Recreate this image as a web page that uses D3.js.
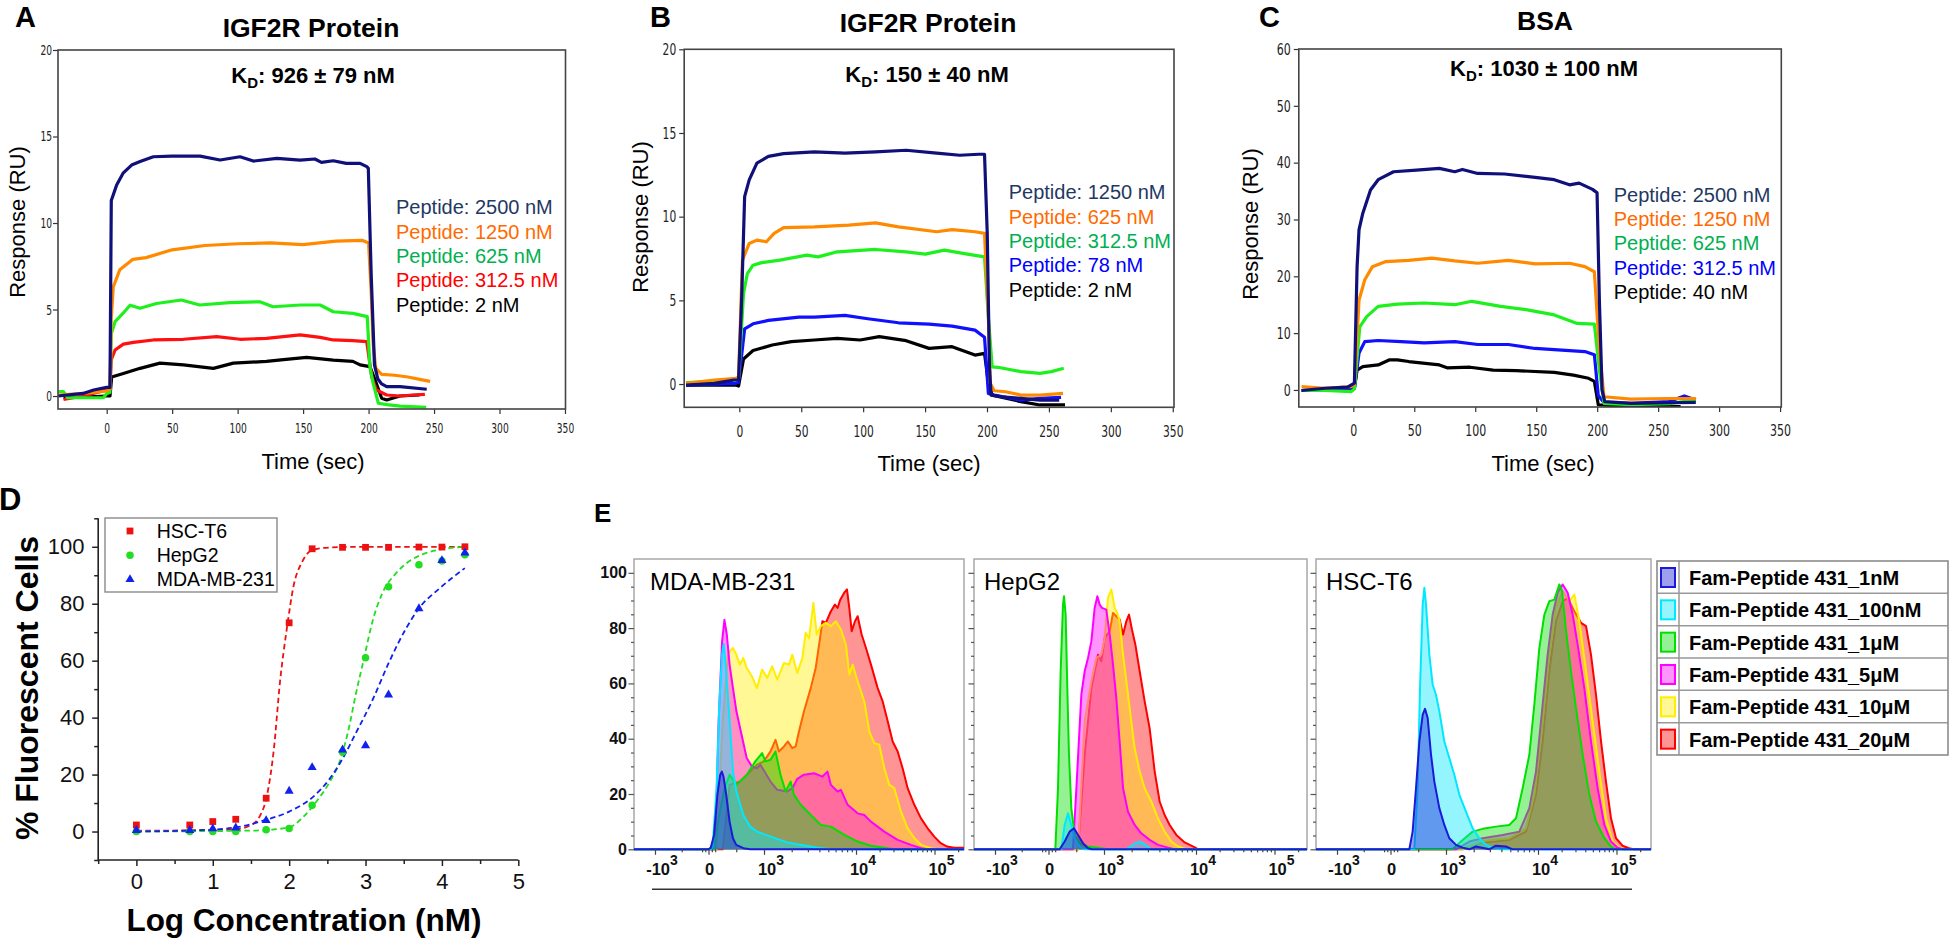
<!DOCTYPE html>
<html><head><meta charset="utf-8">
<script src="https://cdn.jsdelivr.net/npm/d3@7"></script>
<style>
body{margin:0;background:#fff}
text{font-family:'Liberation Sans',Arial,Helvetica,sans-serif}
</style>
</head><body>
<svg id="fig" width="1950" height="939" xmlns="http://www.w3.org/2000/svg"></svg>
<script>
// ====================== DATA ======================
// ---- SPR sensorgrams: [time (s), response (RU)] ----
const timeTicks = [0,50,100,150,200,250,300,350];
const yTicksAB = [0,5,10,15,20];
const yTicksC = [0,10,20,30,40,50,60];

const legendA = ['Peptide: 2500 nM','Peptide: 1250 nM','Peptide: 625 nM','Peptide: 312.5 nM','Peptide: 2 nM'];
const sprA_2500 = [[-37,0],[-18,0.15],[-10,0.35],[0,0.5],[2.5,0.5],[3.5,11.3],[7.6,12.2],[12.7,12.9],[19,13.35],[25.5,13.55],[35.6,13.83],[49.6,13.87],[71.3,13.87],[86.6,13.64],[101.8,13.83],[112,13.58],[130,13.74],[147.7,13.64],[159,13.7],[164,13.5],[173,13.6],[183,13.45],[193.5,13.45],[198.6,13.26],[199.8,13.16],[202,7],[204.5,1.8],[207,1.0],[210,0.7],[213.8,0.54],[224,0.54],[244.4,0.39]];
const sprA_1250 = [[-37,0.05],[-18,0.15],[-5,0.25],[0,0.3],[2.5,0.4],[3.5,4.5],[5,6.3],[10,7.3],[20,7.9],[30,8.0],[50,8.45],[75,8.7],[100,8.8],[125,8.85],[150,8.75],[175,8.95],[195,9.0],[200,8.85],[202,6],[203.5,3],[205.5,1.6],[210,1.25],[220,1.2],[230,1.1],[240,0.95],[247,0.85]];
const sprA_625 = [[-37,0.25],[-33,0.25],[-30,-0.1],[-2.5,-0.1],[0,0.15],[2.5,0.2],[3.5,3.6],[6.4,4.3],[12.7,4.8],[17.8,5.25],[25.5,5.07],[38,5.35],[57,5.55],[71,5.26],[94,5.4],[117,5.45],[127,5.16],[148,5.26],[163,5.26],[173,4.87],[188,4.78],[199,4.59],[201,1.7],[203.5,0.73],[207.5,-0.42],[214,-0.5],[224,-0.58],[244,-0.65]];
const sprA_312 = [[-33,-0.2],[-18,0],[0,0.35],[2.5,0.4],[3.5,2.1],[6.4,2.66],[12.7,3.0],[20.4,3.1],[35.6,3.24],[58.6,3.28],[84,3.43],[101.8,3.28],[122,3.33],[147.7,3.53],[163,3.39],[173,3.24],[188,3.2],[198.6,3.14],[202.4,1.1],[206,0.35],[213.8,0.06],[224,0],[234,0.06],[243,0.1]];
const sprA_2 = [[-33,-0.1],[0,0],[2.5,0],[3.8,1.1],[12.7,1.3],[25.5,1.6],[40.7,1.9],[58.6,1.8],[81.5,1.6],[96.7,1.9],[122,2.0],[135,2.1],[152.7,2.23],[173,2.08],[188,2.0],[193.5,1.8],[201,1.7],[205,0.92],[210,-0.13],[213.8,-0.23],[224,0],[239,0.06]];

const legendB = ['Peptide: 1250 nM','Peptide: 625 nM','Peptide: 312.5 nM','Peptide: 78 nM','Peptide: 2 nM'];
const sprB_1250 = [[-43,-0.06],[-20,0.04],[-4.3,0.24],[-0.6,0.24],[1.85,5],[4.3,11.2],[8,12.2],[14.2,13.2],[23.5,13.6],[35.8,13.77],[60.6,13.87],[85.3,13.8],[110,13.87],[134.7,13.97],[159.4,13.8],[178,13.67],[193.4,13.73],[198,13.73],[200.2,9],[202,1],[203.3,-0.66],[211.9,-0.76],[227.4,-0.86],[242.8,-0.96],[258.3,-0.96]];
const sprB_625 = [[-43,0.04],[-20,0.24],[-2.8,0.34],[-0.6,0.4],[2.5,7.4],[8,8.4],[14.2,8.6],[21.9,8.5],[28.1,9.0],[35.8,9.35],[60.6,9.39],[88.4,9.5],[110,9.63],[128.5,9.39],[159.4,9.1],[171.8,9.23],[190.3,9.1],[198,9.0],[201.1,4],[202.7,0.04],[205.8,-0.4],[215,-0.46],[227.4,-0.66],[242.8,-0.66],[261.4,-0.56]];
const sprB_312 = [[-43,0.08],[-20,0.14],[-2.8,0.24],[-0.6,0.3],[3.4,5.4],[6.5,6.6],[11.1,7.1],[17.3,7.24],[32.7,7.4],[54.4,7.7],[63.6,7.6],[79.1,7.9],[110,8.04],[134.7,7.9],[150.1,7.76],[165.6,8.0],[184.1,7.76],[198,7.6],[201.1,4],[204.2,1.03],[208.8,1.0],[227.4,0.74],[242.8,0.64],[252,0.74],[262,0.94]];
const sprB_78 = [[-43,-0.06],[-2.8,0.04],[-0.6,0.1],[4.3,3.3],[11.1,3.6],[23.5,3.8],[48.2,4.0],[60.6,4.0],[85.3,4.1],[103.8,3.9],[128.5,3.66],[153.2,3.58],[171.8,3.46],[190.3,3.22],[198,2.8],[201.1,-0.56],[205.8,-0.66],[227.4,-0.96],[242.8,-0.86],[259.8,-0.8]];
const sprB_2 = [[-43,-0.06],[-2.8,-0.06],[-0.6,-0.12],[3.4,1.5],[11.1,2.0],[26.6,2.33],[42,2.53],[60.6,2.63],[79.1,2.73],[97.6,2.63],[113,2.83],[134.7,2.59],[153.2,2.13],[171.8,2.23],[190.3,1.73],[198,1.83],[201.1,0.04],[204.2,-0.66],[227.4,-1.05],[242.8,-1.25],[263,-1.25]];

const legendC = ['Peptide: 2500 nM','Peptide: 1250 nM','Peptide: 625 nM','Peptide: 312.5 nM','Peptide: 40 nM'];
const sprC_2500 = [[-42.4,-0.1],[-23.5,0.3],[-4.7,0.5],[0.9,1.2],[3.1,21.7],[4.7,28.2],[7.8,31.1],[14.1,35.2],[20.4,37],[33,38.4],[51.8,38.7],[70.6,39],[83.2,38.4],[89.5,38.8],[102,38.1],[124,38.0],[149.1,37.4],[164.8,37],[177.3,36.1],[185.2,36.4],[196.2,35.3],[199.9,34.7],[201.8,15.8],[204,0],[206.2,-2.05],[227.6,-2.35],[259,-2.25],[280.9,-2.2]];
const sprC_1250 = [[-42.4,0.6],[-23.5,0.3],[-1.6,0.6],[0.9,1.0],[4.7,15.8],[9.4,19.4],[15.7,21.7],[26.7,22.6],[45.5,22.8],[64.3,23.2],[83.2,22.7],[102,22.3],[127.1,22.8],[149.1,22.2],[177.3,22.3],[189.9,21.7],[197.7,20.8],[201.8,7],[205.6,-1.2],[227.6,-1.6],[259,-1.5],[280.9,-1.5]];
const sprC_625 = [[-42.4,-0.1],[-23.5,-0.1],[-1.6,-0.3],[0.9,0.2],[5.3,11.1],[11,12.9],[20.4,14.7],[36.1,15.1],[58.1,15.3],[83.2,15.0],[97.3,15.6],[120.8,14.7],[142.8,14.1],[164.8,13.2],[183.6,11.7],[197.7,11.6],[201.8,3.5],[205.6,-2.35],[227.6,-2.6],[259,-2.4],[280.9,-1.76]];
const sprC_312 = [[-42.4,-0.1],[-1.6,0],[0.9,0.3],[4.7,6.5],[9.4,8.5],[20.4,8.7],[39.2,8.5],[58.1,8.3],[83.2,8.5],[102,8.0],[127.1,8.0],[149.1,7.3],[171.1,7.0],[189.9,6.75],[197.7,6.2],[200.9,-1.0],[205.6,-2.2],[227.6,-2.35],[259,-2.05],[271.5,-1.06],[280.9,-1.76]];
const sprC_40 = [[-42.4,-0.1],[-1.6,0.1],[0.9,0.3],[3.1,3.5],[7.8,4.1],[20.4,4.4],[29.8,5.3],[36.1,5.3],[45.5,5.0],[70.6,4.4],[76.9,3.9],[95.7,4.0],[114.6,3.5],[133.4,3.4],[164.8,3.1],[180.5,2.6],[193,2.05],[197.7,1.5],[200.9,-2.6],[227.6,-2.9],[259,-2.95],[268.4,-2.95]];

// ---- Panel D: dose response ----
const logConc = [0,0.699,1,1.301,1.699,2,2.301,2.699,3,3.301,3.699,4,4.301];
const hscT6 = [2.3,2.3,3.5,4.3,11.7,73.3,99.3,99.8,99.8,99.8,99.9,99.9,100];
const hepG2 = [0,0,0,0,0.6,1.1,9.2,27.9,61,86,93.7,95,97.2];
const mdaMB231 = [0.4,0.4,1,1.3,3.9,14.2,22.5,28.7,30.2,48,78.3,95.2,97.9];
const fitHscX = [0,0.7,1.3,1.49,1.62,1.71,1.80,1.88,1.97,2.06,2.17,2.28,2.45,2.7,3,3.5,4,4.3];
const fitHscY = [0.3,0.4,0.8,2.1,5.6,12.7,29,52.5,71.3,86.5,94.7,98.5,99.6,99.9,100,100,100,100];
const fitHepX = [0,1.57,2.0,2.18,2.35,2.53,2.66,2.79,2.87,2.98,3.09,3.22,3.4,3.57,3.75,4.01,4.3];
const fitHepY = [0,0.35,1.5,5,10.3,17.4,24.4,37.3,47.9,60.8,73.7,83.7,90.7,94.9,97.4,99.2,100];
const fitMdaX = [0,0.71,1.32,1.67,2.0,2.31,2.53,2.7,2.87,3.09,3.31,3.53,3.7,3.97,4.3];
const fitMdaY = [0,0.35,1.5,3.9,7,12.1,18.5,25.6,34.4,46.1,59.6,71.3,78.4,85.4,92.5];
const dLegend = ['HSC-T6','HepG2','MDA-MB-231'];
const dXTicks = [0,1,2,3,4,5];
const dYTicks = [0,20,40,60,80,100];

// ---- Panel E: flow cytometry histograms [display decade unit, % of max] ----
// decade units: -1 = -10^3, 0 = 0, 1 = 10^3, 2 = 10^4, 3 = 10^5
const eLegend = ['Fam-Peptide 431_1nM','Fam-Peptide 431_100nM','Fam-Peptide 431_1μM','Fam-Peptide 431_5μM','Fam-Peptide 431_10μM','Fam-Peptide 431_20μM'];
const eTickUnits = [-1,0,1,2,3];
const eTickBase = ['-10','0','10','10','10'];
const eTickExp = ['3','','3','4','5'];
const eYTicks = [0,20,40,60,80,100];

const mda_1nM = [[0.0,0],[0.04,0.6],[0.10,5.2],[0.16,19.7],[0.21,26.9],[0.24,28.1],[0.27,26.3],[0.32,19.7],[0.38,10],[0.44,4],[0.50,1.6],[0.63,0.4],[0.75,0]];
const mda_100nM = [[0.07,0],[0.145,22],[0.194,52],[0.244,70.4],[0.275,74.3],[0.318,64.4],[0.38,46.3],[0.441,28.1],[0.503,20.9],[0.627,12.4],[0.75,8.2],[0.873,6.4],[1.071,4.6],[1.253,2.5],[1.362,1.8],[1.581,0.6],[1.726,0]];
const mda_1uM = [[0.102,0],[0.194,12.4],[0.287,22],[0.38,27],[0.503,23.3],[0.565,24.5],[0.688,26.9],[0.843,31.8],[0.966,34.8],[1.016,31.8],[1.071,32.4],[1.125,35.4],[1.18,26.9],[1.235,20.9],[1.29,24.5],[1.326,19.7],[1.399,16.1],[1.508,12.4],[1.618,8.8],[1.727,8.2],[1.873,5.2],[2.02,2.8],[2.19,1.3],[2.4,0.4],[2.49,0]];
const mda_5uM = [[0.12,0],[0.182,46],[0.244,75],[0.287,83],[0.33,77.7],[0.38,66.8],[0.441,58.3],[0.503,49.9],[0.596,41.4],[0.688,33],[0.781,30],[0.873,29.3],[0.935,30.6],[1.071,24.5],[1.144,21.5],[1.253,20.9],[1.308,22.1],[1.362,25.5],[1.435,27],[1.544,27.5],[1.635,26.3],[1.69,28.1],[1.727,23.3],[1.8,20.9],[1.836,21.5],[1.909,16.1],[2.02,13],[2.106,12.4],[2.19,10],[2.36,6.4],[2.53,3.4],[2.70,1.6],[2.83,0.4],[2.91,0]];
const mda_10uM = [[0.145,0],[0.256,46],[0.349,70],[0.38,71.6],[0.441,72.8],[0.503,70.4],[0.565,66.8],[0.627,69.2],[0.688,65.6],[0.781,62.6],[0.873,58.3],[0.966,65],[1.035,62],[1.089,66.2],[1.144,61.4],[1.217,67.4],[1.271,66.8],[1.308,70.4],[1.362,63.8],[1.417,69.2],[1.453,78.3],[1.49,76.3],[1.537,89.1],[1.573,77.7],[1.617,80.7],[1.672,81.9],[1.727,80.7],[1.781,82.5],[1.836,79.5],[1.891,74],[1.927,63.2],[1.964,66.8],[2.021,60.7],[2.106,53.5],[2.17,42.6],[2.233,38.4],[2.297,37.8],[2.361,29.3],[2.425,23.3],[2.488,22.1],[2.573,13.6],[2.658,7.6],[2.745,4],[2.83,1.6],[2.955,0.4],[3.04,0]];
const mda_20uM = [[0.256,0],[0.38,23.3],[0.565,24.5],[0.75,28.1],[0.873,30.6],[0.997,31.8],[1.071,35.4],[1.125,39.6],[1.162,35.4],[1.217,37.2],[1.26,39],[1.308,36.6],[1.344,37.2],[1.38,42.6],[1.435,49.9],[1.508,58.3],[1.562,65.6],[1.599,74],[1.635,82.5],[1.672,81.9],[1.727,86.1],[1.771,88.5],[1.8,87.3],[1.829,90.3],[1.872,92.8],[1.902,94],[1.927,87.3],[1.953,78.9],[1.989,82.5],[2.021,84.3],[2.072,77.7],[2.127,72.8],[2.191,66.8],[2.276,58.3],[2.34,53.5],[2.404,46.3],[2.467,39],[2.531,35.4],[2.594,29.3],[2.658,22.1],[2.743,16.1],[2.828,11.2],[2.913,7.6],[2.997,4.6],[3.08,2.2],[3.16,1],[3.25,0.6],[3.39,0.6]];

const hep_1nM = [[0.201,0],[0.291,2.8],[0.381,6.4],[0.459,7.6],[0.532,5.2],[0.622,2.2],[0.712,0.4],[0.78,0]];
const hep_100nM = [[0.231,0],[0.291,8.8],[0.351,13],[0.411,8.8],[0.471,4],[0.561,1],[0.652,0],[1.243,0],[1.333,2],[1.388,2.8],[1.442,1.8],[1.514,0]];
const hep_1uM = [[0.123,0],[0.171,22],[0.219,64.4],[0.261,88.5],[0.279,91.5],[0.309,84.9],[0.339,58.3],[0.369,34.2],[0.411,14.9],[0.471,5.2],[0.561,2.2],[0.712,1],[0.952,0.4],[1.043,0]];
const hep_5uM = [[0.441,0],[0.502,22],[0.592,56],[0.652,64.4],[0.712,69.2],[0.772,75.2],[0.832,87.3],[0.88,91.5],[0.922,88.5],[0.964,87.3],[1.025,86.7],[1.062,77.7],[1.098,66.8],[1.134,54.7],[1.17,39],[1.207,22.1],[1.261,13.6],[1.333,8.8],[1.406,5.8],[1.496,3.4],[1.587,1.6],[1.696,0.6],[1.768,0]];
const hep_10uM = [[0.532,0],[0.652,46.3],[0.772,60.7],[0.862,69.2],[0.952,70.4],[1.007,76.4],[1.043,90.9],[1.08,94],[1.116,87.3],[1.145,85.5],[1.17,82.5],[1.207,70.4],[1.243,60.7],[1.297,46.3],[1.333,36.6],[1.388,28.1],[1.442,22.1],[1.514,17.3],[1.587,11.2],[1.659,6.4],[1.732,2.8],[1.804,1],[1.895,0]];
const hep_20uM = [[0.532,0],[0.652,34.2],[0.772,58.3],[0.892,70.4],[0.952,68],[1.007,76.4],[1.062,78.9],[1.098,85.5],[1.134,84.3],[1.17,83.1],[1.207,77.7],[1.243,82.5],[1.272,84.9],[1.304,79.5],[1.341,74],[1.388,64.4],[1.442,53.5],[1.496,43.8],[1.551,28.1],[1.605,17.3],[1.659,12.4],[1.714,8.8],[1.786,5.2],[1.877,2.5],[1.949,1.3],[2.004,0.4],[2.02,0]];

const hsc_1nM = [[0.339,0],[0.399,6.4],[0.459,22],[0.52,39],[0.58,48.7],[0.622,50.8],[0.67,47.5],[0.73,34.2],[0.79,24.5],[0.88,14.9],[0.97,8.8],[1.036,4],[1.109,1.6],[1.181,0.6],[1.254,0],[1.326,1],[1.471,0],[1.543,1.3],[1.652,1],[1.725,0]];
const hsc_100nM = [[0.429,0],[0.489,22],[0.532,58.3],[0.58,88.5],[0.61,94.6],[0.64,88.5],[0.70,70.4],[0.76,59.5],[0.82,55.9],[0.88,49.9],[0.97,39],[1.036,33],[1.091,26.9],[1.145,19.7],[1.217,13.6],[1.29,7.6],[1.362,4],[1.435,1.6],[1.507,0.6],[1.58,0]];
const hsc_1uM = [[1.072,0],[1.181,3.4],[1.29,6.4],[1.399,7.4],[1.543,8.2],[1.688,8.8],[1.761,11.2],[1.833,22.1],[1.906,34.2],[1.96,52.3],[2.017,72.8],[2.081,84.9],[2.144,89.7],[2.208,90.3],[2.272,95.8],[2.306,93.4],[2.357,78.9],[2.42,64.4],[2.484,51.1],[2.569,34.2],[2.654,19.7],[2.739,10],[2.845,4],[2.93,1],[2.994,0]];
const hsc_5uM = [[1.109,0],[1.254,2.8],[1.399,4],[1.616,5.2],[1.797,6.4],[1.906,14.9],[1.978,28.1],[2.059,52.3],[2.123,70.4],[2.187,84.9],[2.25,92.8],[2.314,95.8],[2.378,92.8],[2.442,84.9],[2.505,74],[2.59,58.3],[2.675,39],[2.76,22.1],[2.845,8.8],[2.93,2.8],[3.015,0.6],[3.08,0]];
const hsc_10uM = [[1.181,0],[1.399,3],[1.688,4],[1.87,7.6],[1.96,19.7],[2.059,46.3],[2.144,70.4],[2.229,87.3],[2.314,93.4],[2.399,89.7],[2.463,92.1],[2.527,82.5],[2.612,64.4],[2.696,46.3],[2.781,28.1],[2.866,11.2],[2.951,2.8],[3.036,0.6],[3.10,0]];
const hsc_20uM = [[1.181,0],[1.399,2.5],[1.688,3.4],[1.87,6.4],[1.978,19.7],[2.059,39],[2.144,64.4],[2.229,82.5],[2.314,89.7],[2.378,90.9],[2.463,86.1],[2.548,81.9],[2.612,80.7],[2.675,70.4],[2.739,55.9],[2.803,39],[2.866,24.5],[2.93,11.2],[2.994,4],[3.076,1.3],[3.16,0.4],[3.22,0]];

// ====================== STYLE ======================
const NARROW = "'Liberation Sans Narrow','DejaVu Sans Condensed','Liberation Sans',sans-serif";
const lineColA = ['#10107a','#ff8a00','#1ef01e','#ff1010','#000000'];
const lineColBC = ['#10107a','#ff8a00','#1ef01e','#1010ff','#000000'];
const legTxtA = ['#1f3864','#ff6a00','#00b050','#ff0000','#000000'];
const legTxtBC = ['#1f3864','#ff6a00','#00b050','#0000ff','#000000'];
const eColors = ['#1a1ad8','#00e8ff','#00e000','#ff00ff','#ffee00','#ff0000'];
const dColors = ['#ee1111','#22dd22','#1122ee'];

const svg = d3.select('#fig');
svg.append('rect').attr('width',1950).attr('height',939).attr('fill','#fff');
const defs = svg.append('defs');

function panelLabel(t,x,y,fs){
  svg.append('text').attr('x',x).attr('y',y).style('font-weight','bold').style('font-size',fs+'px').text(t);
}

// ====================== SPR PANELS ======================
function spr(c){
  const g = svg.append('g');
  const x = d3.scaleLinear().domain(c.xd).range([c.l,c.r]);
  const y = d3.scaleLinear().domain(c.yd).range([c.b,c.t]);
  const id = 'clip'+c.key;
  defs.append('clipPath').attr('id',id).append('rect')
    .attr('x',c.l).attr('y',c.t).attr('width',c.r-c.l).attr('height',c.b-c.t);
  const ax = g.append('g').attr('transform',`translate(0,${c.b})`)
    .call(d3.axisBottom(x).tickValues(timeTicks).tickSize(5).tickSizeOuter(0).tickPadding(c.xpad).tickFormat(d3.format('d')));
  const ay = g.append('g').attr('transform',`translate(${c.l},0)`)
    .call(d3.axisLeft(y).tickValues(c.yt).tickSize(5).tickSizeOuter(0).tickPadding(c.ypad).tickFormat(d3.format('d')));
  [ax,ay].forEach(a=>{
    a.select('.domain').remove();
    a.selectAll('line').attr('stroke','#333').attr('stroke-width',1.2);
    a.selectAll('text').style('font-family',NARROW).style('font-size',c.tf+'px').attr('fill','#222')
      .attr('textLength',d=>String(d).length*c.cw).attr('lengthAdjust','spacingAndGlyphs');
  });
  const lg = g.append('g').attr('clip-path',`url(#${id})`);
  const line = d3.line().x(d=>x(d[0])).y(d=>y(d[1]));
  for(let i=c.series.length-1;i>=0;i--){
    lg.append('path').attr('d',line(c.series[i])).attr('fill','none')
      .attr('stroke',c.colors[i]).attr('stroke-width',3.2).attr('stroke-linejoin','round');
  }
  g.append('rect').attr('x',c.l).attr('y',c.t).attr('width',c.r-c.l).attr('height',c.b-c.t)
    .attr('fill','none').attr('stroke','#444').attr('stroke-width',1.6);
  g.append('text').attr('x',c.titleX).attr('y',c.titleY).attr('text-anchor','middle')
    .style('font-weight','bold').style('font-size','26.5px').text(c.title);
  const kd = g.append('text').attr('x',c.kdX).attr('y',c.kdY).attr('text-anchor','middle')
    .style('font-weight','bold').style('font-size','22px');
  kd.append('tspan').text('K');
  kd.append('tspan').attr('dy',5).style('font-size','15px').text('D');
  kd.append('tspan').attr('dy',-5).text(c.kd);
  c.legend.forEach((t,i)=>{
    g.append('text').attr('x',c.lx).attr('y',c.ly+i*24.35).style('font-size','20px')
      .attr('fill',c.legCol[i]).text(t);
  });
  g.append('text').attr('transform',`translate(${c.rx},${c.ry}) rotate(-90)`).attr('text-anchor','middle')
    .attr('dy','0.35em').style('font-size','22px').text('Response (RU)');
  g.append('text').attr('x',c.txX).attr('y',c.txY).attr('text-anchor','middle')
    .style('font-size','22px').text('Time (sec)');
}

spr({key:'A',l:58,r:565.5,t:50,b:409,xd:[-37.2,350.4],yd:[-0.75,20],yt:yTicksAB,
  series:[sprA_2500,sprA_1250,sprA_625,sprA_312,sprA_2],colors:lineColA,legend:legendA,legCol:legTxtA,
  tf:14,cw:5.8,xpad:9,ypad:1,title:'IGF2R Protein',titleX:311,titleY:37,kd:': 926 ± 79 nM',kdX:313,kdY:83,
  lx:396,ly:214.3,rx:17,ry:222,txX:313,txY:469});
spr({key:'B',l:684.2,r:1174,t:49.3,b:407.3,xd:[-44.5,351],yd:[-1.39,20],yt:yTicksAB,
  series:[sprB_1250,sprB_625,sprB_312,sprB_78,sprB_2],colors:lineColBC,legend:legendB,legCol:legTxtBC,
  tf:16.5,cw:6.8,xpad:12.5,ypad:3,title:'IGF2R Protein',titleX:928,titleY:32,kd:': 150 ± 40 nM',kdX:927,kdY:82,
  lx:1008.7,ly:199.3,rx:640,ry:217,txX:929,txY:471});
spr({key:'C',l:1298.8,r:1781.3,t:49,b:407,xd:[-44.7,351],yd:[-3,60],yt:yTicksC,
  series:[sprC_2500,sprC_1250,sprC_625,sprC_312,sprC_40],colors:lineColBC,legend:legendC,legCol:legTxtBC,
  tf:16.5,cw:7,xpad:12.5,ypad:3,title:'BSA',titleX:1545,titleY:30,kd:': 1030 ± 100 nM',kdX:1544,kdY:76,
  lx:1613.7,ly:201.7,rx:1250,ry:224,txX:1543,txY:471});

panelLabel('A',15,27,29);
panelLabel('B',650,27,29);
panelLabel('C',1259,27,29);
panelLabel('D',-1,510,31);
panelLabel('E',594,522,26);

// ====================== PANEL D ======================
(function(){
  const g = svg.append('g');
  const x = d3.scaleLinear().domain([-0.5,5]).range([98.2,518.3]);
  const y = d3.scaleLinear().domain([-10,110]).range([860,518.3]);
  const xm = g.append('g').attr('transform','translate(0,860)')
    .call(d3.axisBottom(x).tickValues([-0.5,0.5,1.5,2.5,3.5,4.5]).tickSize(4).tickFormat(''));
  const ym = g.append('g').attr('transform','translate(98.2,0)')
    .call(d3.axisLeft(y).tickValues([-10,10,30,50,70,90,110]).tickSize(4).tickFormat(''));
  const xa = g.append('g').attr('transform','translate(0,860)')
    .call(d3.axisBottom(x).tickValues(dXTicks).tickSize(6).tickSizeOuter(0).tickPadding(7.4).tickFormat(d3.format('d')));
  const ya = g.append('g').attr('transform','translate(98.2,0)')
    .call(d3.axisLeft(y).tickValues(dYTicks).tickSize(6).tickSizeOuter(0).tickPadding(7.8).tickFormat(d3.format('d')));
  [xm,ym,xa,ya].forEach(a=>{a.select('.domain').remove(); a.selectAll('line').attr('stroke','#222').attr('stroke-width',1.5);});
  [xa,ya].forEach(a=>a.selectAll('text').style('font-family',"'Liberation Sans',Arial,sans-serif").style('font-size','22px').attr('fill','#111'));
  g.append('line').attr('x1',98.2).attr('x2',98.2).attr('y1',518.3).attr('y2',860).attr('stroke','#222').attr('stroke-width',1.6);
  g.append('line').attr('x1',98.2).attr('x2',518.3).attr('y1',860).attr('y2',860).attr('stroke','#222').attr('stroke-width',1.6);

  const line = d3.line().x(d=>x(d[0])).y(d=>y(d[1])).curve(d3.curveMonotoneX);
  const fits = [[fitHscX,fitHscY],[fitHepX,fitHepY],[fitMdaX,fitMdaY]];
  fits.forEach((f,i)=>{
    g.append('path').attr('d',line(f[0].map((v,j)=>[v,f[1][j]]))).attr('fill','none')
      .attr('stroke',dColors[i]).attr('stroke-width',1.8).attr('stroke-dasharray','5.5,3.5');
  });
  const syms = [d3.symbol(d3.symbolSquare,46),d3.symbol(d3.symbolCircle,44),d3.symbol(d3.symbolTriangle,36)];
  const sets = [hscT6,hepG2,mdaMB231];
  [1,0,2].forEach(i=>{
    g.selectAll(null).data(logConc).enter().append('path')
      .attr('transform',(d,j)=>`translate(${x(d)},${y(sets[i][j])})`)
      .attr('d',syms[i]()).attr('fill',dColors[i]);
  });
  g.append('rect').attr('x',105).attr('y',518).attr('width',172).attr('height',74)
    .attr('fill','#fff').attr('stroke','#8a8a8a').attr('stroke-width',1.4);
  dLegend.forEach((t,i)=>{
    const cy = 531 + i*24.2;
    g.append('path').attr('transform',`translate(130,${cy})`).attr('d',syms[i]()).attr('fill',dColors[i]);
    g.append('text').attr('x',156.7).attr('y',cy).attr('dy','0.36em').style('font-size','19.5px').text(t);
  });
  g.append('text').attr('transform','translate(26,688) rotate(-90)').attr('text-anchor','middle').attr('dy','0.36em')
    .style('font-weight','bold').style('font-size','32px').text('% Fluorescent Cells');
  g.append('text').attr('x',304).attr('y',931).attr('text-anchor','middle')
    .style('font-weight','bold').style('font-size','31.5px').text('Log Concentration (nM)');
})();

// ====================== PANEL E ======================
const eTop = 559, eBottom = 849.3;
const eOffsets = [21,74.5,130,222,300.5];
function flowPanel(L,W,name,series,yLabels){
  const g = svg.append('g');
  const x = d3.scaleLinear().domain(eTickUnits).range(eOffsets.map(o=>L+o));
  const y = d3.scaleLinear().domain([0,105]).range([eBottom,eTop]);
  const uL = x.invert(L), uR = x.invert(L+W);
  const id = 'eclip'+Math.round(L);
  defs.append('clipPath').attr('id',id).append('rect').attr('x',L).attr('y',eTop).attr('width',W).attr('height',eBottom-eTop+2);
  g.append('rect').attr('x',L).attr('y',eTop).attr('width',W).attr('height',eBottom-eTop)
    .attr('fill','#fff').attr('stroke','#a8a8a8').attr('stroke-width',1.5);
  const ym = g.append('g').attr('transform',`translate(${L},0)`)
    .call(d3.axisLeft(y).tickValues(d3.range(5,100,5).filter(v=>v%20)).tickSize(3).tickFormat(''));
  const ya = g.append('g').attr('transform',`translate(${L},0)`)
    .call(d3.axisLeft(y).tickValues(eYTicks).tickSize(5.5).tickSizeOuter(0).tickPadding(1.5).tickFormat(yLabels?d3.format('d'):''));
  [ym,ya].forEach(a=>{a.select('.domain').remove(); a.selectAll('line').attr('stroke','#555').attr('stroke-width',1.2);});
  ya.selectAll('text').style('font-family',"'Liberation Sans',Arial,sans-serif").style('font-weight','bold').style('font-size','16px').attr('fill','#111');
  const sg = g.append('g').attr('clip-path',`url(#${id})`);
  const area = d3.area().x(d=>x(d[0])).y0(eBottom).y1(d=>y(d[1]));
  const line = d3.line().x(d=>x(d[0])).y(d=>y(d[1]));
  for(let i=series.length-1;i>=0;i--){
    const pts = [[uL,0]].concat(series[i],[[uR,0]]);
    sg.append('path').attr('d',area(pts)).attr('fill',eColors[i]).attr('fill-opacity',0.42);
    sg.append('path').attr('d',line(pts)).attr('fill','none').attr('stroke',eColors[i]).attr('stroke-width',2).attr('stroke-linejoin','round');
  }
  const minorU = [-0.5,-0.12,-0.06,0.06,0.12,0.5]
    .concat(d3.range(2,10).map(k=>1+Math.log10(k)), d3.range(2,10).map(k=>2+Math.log10(k)), [3+Math.log10(2)]);
  const xm = g.append('g').attr('transform',`translate(0,${eBottom})`)
    .call(d3.axisBottom(x).tickValues(minorU).tickSize(3).tickFormat(''));
  const xa = g.append('g').attr('transform',`translate(0,${eBottom})`)
    .call(d3.axisBottom(x).tickValues(eTickUnits).tickSize(5.5).tickFormat(''));
  [xm,xa].forEach(a=>{a.select('.domain').remove(); a.selectAll('line').attr('stroke','#444').attr('stroke-width',1.2);});
  eTickUnits.forEach((u,i)=>{
    const t = g.append('text').attr('x',x(u)+(eTickExp[i]?7:1)).attr('y',875).attr('text-anchor','middle')
      .style('font-weight','bold').style('font-size','16.5px').attr('fill','#111');
    t.append('tspan').text(eTickBase[i]);
    if(eTickExp[i]) t.append('tspan').attr('dy',-10).style('font-size','14px').text(eTickExp[i]);
  });
  g.append('text').attr('x',L+(name==='MDA-MB-231'?16:10)).attr('y',590).style('font-size','24px').text(name);
}
flowPanel(634,330,'MDA-MB-231',[mda_1nM,mda_100nM,mda_1uM,mda_5uM,mda_10uM,mda_20uM],true);
flowPanel(974,333,'HepG2',[hep_1nM,hep_100nM,hep_1uM,hep_5uM,hep_10uM,hep_20uM],false);
flowPanel(1316,335,'HSC-T6',[hsc_1nM,hsc_100nM,hsc_1uM,hsc_5uM,hsc_10uM,hsc_20uM],false);

svg.append('line').attr('x1',652).attr('x2',1632).attr('y1',889.3).attr('y2',889.3).attr('stroke','#333').attr('stroke-width',1.6);

(function(){
  const g = svg.append('g');
  const L=1657, T=561, W=291, RH=32.33;
  eLegend.forEach((t,i)=>{
    const ty = T+i*RH;
    g.append('rect').attr('x',L+4).attr('y',ty+7).attr('width',14).attr('height',19)
      .attr('fill',eColors[i]).attr('fill-opacity',0.42).attr('stroke',eColors[i]).attr('stroke-width',2);
    g.append('text').attr('x',1689).attr('y',ty+24).style('font-weight','bold').style('font-size','20px').text(t);
    if(i>0) g.append('line').attr('x1',L).attr('x2',L+W).attr('y1',ty).attr('y2',ty).attr('stroke','#999').attr('stroke-width',1.5);
  });
  g.append('line').attr('x1',1679).attr('x2',1679).attr('y1',T).attr('y2',T+6*RH).attr('stroke','#999').attr('stroke-width',1.5);
  g.append('rect').attr('x',L).attr('y',T).attr('width',W).attr('height',6*RH).attr('fill','none').attr('stroke','#8c8c8c').attr('stroke-width',1.6);
})();
</script>
</body></html>
